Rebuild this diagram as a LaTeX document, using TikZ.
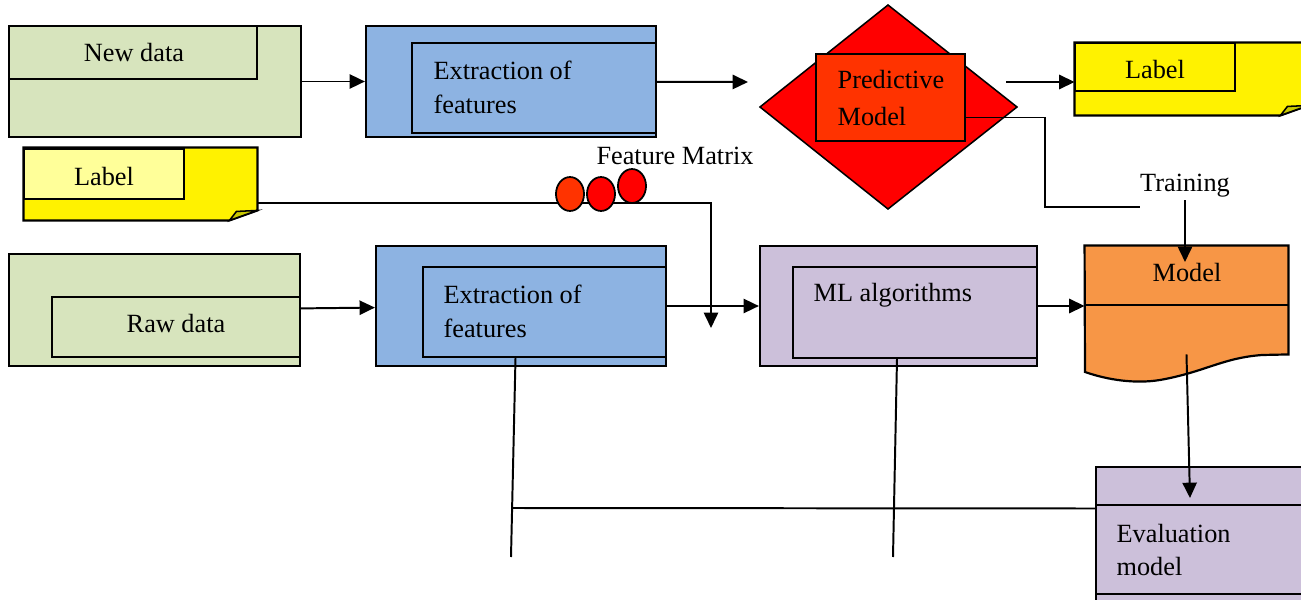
\documentclass[tikz,border=0pt]{standalone}
\usepackage{fontspec}
\setmainfont{Liberation Serif}
\usepackage{tikz}
\usetikzlibrary{arrows.meta,fit,shapes.geometric}

\definecolor{datagreen}{HTML}{D7E4BD}
\definecolor{featblue}{HTML}{8DB3E2}
\definecolor{algolilac}{HTML}{CCC0DA}
\definecolor{modelorange}{HTML}{F79646}
\definecolor{predred}{HTML}{FF3300}
\definecolor{lightnote}{HTML}{FFFF99}
\definecolor{notefold}{HTML}{C8C800}

\begin{document}
\begin{tikzpicture}[x=0.4564pt, y=-0.4564pt,
	font=\fontsize{12}{15.5}\selectfont,
	box/.style={draw, line width=1pt, inner sep=0pt},
	area/.style={inner sep=0pt},
	txt/.style={inner sep=1pt, align=left},
	note/.style={draw, line width=1pt, fill=yellow},
	fold/.style={draw, line width=0.7pt, fill=notefold},
	blob/.style={draw, ellipse, line width=0.8pt, inner sep=0pt, minimum width=12.8pt, minimum height=15.5pt},
	flow/.style={line width=0.9pt, -{Triangle[length=7pt,width=6.5pt]}},
	wire/.style={line width=0.9pt}]
	\useasboundingbox (0,0) rectangle (1301,600);

	\node[box, fill=datagreen, fit={(9,26) (301,137)}] (newdata) {};
	\node[box, fill=datagreen, fit={(9,26) (257,79)}] (newdatain) {};
	\node[txt] (newdatatxt) at (134,53) {New data};
	\node[box, fill=featblue, fit={(366,26) (656,137)}] (ext1) {};
	\node[box, fill=featblue, fit={(412,43) (656,133)}] (ext1in) {};
	\node[txt, anchor=west] (ext1txt) at (431,87) {Extraction of\\features};

	\draw[line width=0.7pt, fill=red] (760,107) -- (888,5) -- (1017,107) -- (888,209) -- cycle;
	\node[box, fill=predred, fit={(816,54) (965,141)}] (pred) {};
	\node[txt, anchor=west] (predtxt) at (835,98) {Predictive\\[1.4pt]Model};

	\node[area, fit={(1075,43) (1308,115)}] (lblr) {};
	\draw[note] (lblr.north west) -- (lblr.north east) -- ([shift={(0,-10)}]lblr.south east) -- ([shift={(-28,0)}]lblr.south east) -- (lblr.south west) -- cycle;
	\draw[fold] ([shift={(-28,0)}]lblr.south east) -- ([shift={(-21,-9)}]lblr.south east) -- ([shift={(0,-10)}]lblr.south east) -- cycle;
	\node[box, fill=yellow, fit={(1075,43) (1235,91)}] (lblrin) {};
	\node[txt] (lblrtxt) at (1155,70) {Label};

	\node[area, fit={(24,148) (257,220)}] (lbl) {};
	\draw[note] (lbl.north west) -- (lbl.north east) -- ([shift={(0,-10)}]lbl.south east) -- ([shift={(-28,0)}]lbl.south east) -- (lbl.south west) -- cycle;
	\draw[fold] ([shift={(-28,0)}]lbl.south east) -- ([shift={(-21,-9)}]lbl.south east) -- ([shift={(0,-10)}]lbl.south east) -- cycle;
	\node[box, fill=lightnote, fit={(24,149) (184,199)}] (lblin) {};
	\node[txt] (lbltxt) at (104,177) {Label};

	\node[box, fill=datagreen, fit={(9,254) (300,366)}] (raw) {};
	\node[box, fill=datagreen, fit={(52,297) (300,357)}] (rawin) {};
	\node[txt] (rawtxt) at (176,324) {Raw data};
	\node[box, fill=featblue, fit={(376,246) (666,366)}] (ext2) {};
	\node[box, fill=featblue, fit={(423,267) (666,357)}] (ext2in) {};
	\node[txt, anchor=west] (ext2txt) at (441,311) {Extraction of\\features};
	\node[box, fill=algolilac, fit={(760,246) (1037,366)}] (ml) {};
	\node[box, fill=algolilac, fit={(793,267) (1037,358)}] (mlin) {};
	\node[txt, anchor=west] (mltxt) at (811,295) {ML algorithms};

	\node[area, fit={(1085,246) (1288,354)}] (model) {};
	\draw[line width=1pt, fill=modelorange] (model.north west) -- (model.north east) -- (model.south east) -- (1262,355)
		.. controls (1222,358) and (1205,372) .. (1160,380) .. controls (1135,384) and (1108,380) .. (1085,372) -- cycle;
	\draw[wire] ([shift={(0,5)}]model.west) -- ([shift={(0,5)}]model.east);
	\node[txt] (modeltxt) at (1187,273) {Model};

	\node[box, fill=algolilac, fit={(1096,467) (1320,620)}] (eval) {};
	\node[box, fit={(1096,505) (1320,594)}] (evalin) {};
	\node[txt, anchor=west] (evaltxt) at (1114,550) {Evaluation\\model};

	\node[txt] (fmtxt) at (675,156) {Feature Matrix};
	\node[txt] (train) at (1185,186) {Training};

	\coordinate (predin) at (748,82);
	\coordinate (predout) at (1006,82);
	\coordinate (fmdown) at (711,328);
	\coordinate (trainend) at (1140,207);
	\coordinate (modelin) at (1185,262);
	\coordinate (evalend) at (1190,498);
	\coordinate (extfoot) at (511,557);
	\coordinate (mlfoot) at (893,557);
	\coordinate (busend) at (511,508);

	\draw[flow] ([shift={(0,-17)}]lbl.south east) -| (fmdown);
	\node[blob, fill=predred] (fm1) at (570,194) {};
	\node[blob, fill=red] (fm2) at (601,194) {};
	\node[blob, fill=red] (fm3) at (632,186) {};

	\draw[wire] ([shift={(0,20)}]pred.east) -- ++(79,0) |- (trainend);
	\draw[wire] ([shift={(-29,0)}]ext2in.south) -- (extfoot);
	\draw[wire] ([shift={(-18,0)}]mlin.south) -- (mlfoot);
	\draw[wire] ([shift={(0,-35)}]eval.west) -- (busend);

	\path[flow]
		(newdata) edge (ext1)
		(ext1) edge (predin)
		(predout) edge (predout -| lblr.west)
		(raw) edge (ext2)
		(ext2) edge (ml)
		(ml.east) edge (ml.east -| model.west)
		(train.south) edge (modelin)
		(model.south) edge (evalend);
\end{tikzpicture}
\end{document}
